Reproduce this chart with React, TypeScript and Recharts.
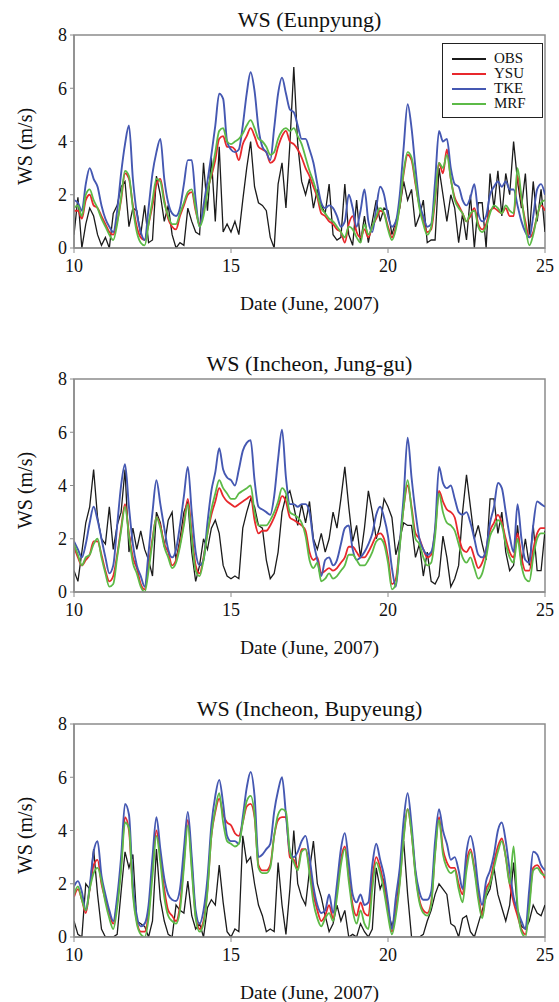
import { Legend, Line, LineChart, ReferenceArea, XAxis, YAxis } from 'recharts';

const FONT = '"Liberation Serif", "Times New Roman", serif';

// 3-hourly samples, 10 June 00h .. 25 June 00h
const START_DAY = 10;
const STEPS_PER_DAY = 8;
const xTicks = [10, 15, 20, 25];
const yTicks = [0, 2, 4, 6, 8];

const SERIES = [
  { key: 'OBS', color: '#1b1b1b', width: 1.3, curve: 'linear' },
  { key: 'YSU', color: '#e8282c', width: 1.8, curve: 'monotone' },
  { key: 'TKE', color: '#4558b2', width: 1.9, curve: 'monotone' },
  { key: 'MRF', color: '#5cba47', width: 1.8, curve: 'monotone' },
] as const;

// ---- Eunpyung ----
const eunObs = [
  0.5, 1.9, 0.0, 0.9, 1.5, 1.2, 0.5, 0.1,
  0.4, 0.0, 1.3, 1.6, 2.3, 2.5, 0.8, 1.5,
  1.4, 0.5, 1.6, 0.2, 0.3, 2.7, 2.0, 1.0,
  1.6, 0.5, 0.0, 0.2, 0.1, 1.5, 1.0, 0.6,
  0.5, 3.2, 1.4, 3.4, 1.0, 3.8, 0.6, 0.9,
  0.6, 1.0, 0.5, 1.8, 3.0, 4.0, 2.3, 1.7,
  1.6, 1.4, 0.4, 0.0, 2.4, 3.2, 1.5, 3.9,
  6.8, 3.9, 2.5, 2.0, 2.6, 1.5, 2.2, 1.6,
  1.3, 2.4, 0.5, 0.3, 0.4, 2.4, 0.5, 0.1,
  1.8, 0.2, 1.2, 0.2, 1.0, 1.8, 1.0, 1.5,
  1.4, 0.5, 1.0, 1.5, 2.5, 1.8, 2.2, 0.8,
  1.2, 1.8, 0.2, 0.3, 0.3, 3.0, 2.0, 1.0,
  2.0, 1.5, 0.2, 1.3, 0.3, 2.0, 0.0, 1.7,
  1.7, 0.0, 2.8, 1.5, 2.9, 1.2, 2.8, 2.0,
  4.0, 2.5, 1.5, 2.8, 0.5, 2.5, 1.0, 2.2, 0.6,
];
const eunYsu = [
  1.4, 1.4, 1.1, 1.8, 2.0, 1.6, 1.5, 1.2,
  0.9, 0.6, 0.5, 1.0, 1.8, 2.8, 2.6, 1.6,
  0.8, 0.4, 0.3, 0.9, 1.6, 2.4, 2.6, 1.8,
  1.1, 0.8, 0.7, 1.2, 1.6, 2.0, 2.1, 1.4,
  0.9, 1.4, 2.2, 2.7, 3.3, 4.1, 4.2, 3.8,
  3.8, 3.7, 3.3, 3.9, 4.2, 4.5, 4.2, 3.8,
  3.7, 3.6, 3.2, 3.3, 3.8, 4.2, 4.4, 4.0,
  3.9, 3.7, 3.4, 3.0, 2.7, 2.3, 1.9, 1.3,
  1.2, 1.0, 0.9, 0.7, 0.6, 0.2, 0.9, 1.2,
  0.6, 0.4, 0.7, 0.4, 0.8, 1.1, 1.4, 1.3,
  0.8, 0.4, 0.8, 1.6, 2.8, 3.5, 3.3, 2.4,
  1.6, 1.0, 0.6, 0.7, 1.8, 3.2, 2.8, 3.7,
  2.6, 1.9, 1.6, 1.3, 1.0, 1.2, 1.5, 0.9,
  0.7, 0.9, 1.4, 1.5, 1.4, 1.3, 1.5, 1.2,
  1.2, 2.7, 1.8, 1.0, 0.4, 0.6, 1.2, 1.6, 1.4,
];
const eunTke = [
  1.8, 1.7, 1.4, 2.4, 3.0, 2.6, 2.3, 1.6,
  1.1, 0.8, 0.6, 1.4, 2.8, 3.9, 4.6, 2.6,
  1.3, 0.6, 0.3, 1.5, 2.8, 3.6, 4.1, 2.6,
  1.7, 1.3, 1.2, 1.5, 2.4, 3.3, 3.3, 1.8,
  0.8, 1.6, 2.5, 3.5, 4.6, 5.8, 5.6, 4.0,
  3.7, 3.6, 3.7, 4.6, 5.8, 6.6, 5.9, 4.5,
  3.8, 3.6, 3.3, 4.5, 5.8, 6.4, 5.8, 5.2,
  5.1, 4.6, 4.1, 4.1, 3.7, 3.2, 2.4, 1.7,
  1.5, 1.6, 1.5, 1.2, 0.8, 1.0, 2.0, 1.5,
  0.8, 1.4, 2.2, 1.0, 0.6, 1.5, 2.3, 2.0,
  1.2, 0.8, 1.0, 2.0, 3.8, 5.4, 4.5, 3.0,
  1.7, 1.2, 0.8, 0.9, 2.5, 4.4, 4.0, 4.1,
  3.0, 2.4, 2.3, 1.8, 1.6, 1.9, 2.4, 1.3,
  1.0, 1.2, 2.0, 2.3, 2.5, 2.3, 2.5, 2.2,
  2.2, 1.6, 1.0, 0.6, 0.4, 1.2, 2.2, 2.4, 2.0,
];
const eunMrf = [
  1.5, 1.6, 1.2, 2.0, 2.2, 1.8, 1.5, 1.1,
  0.8, 0.5, 0.3, 0.9, 1.9, 2.9, 2.7, 1.5,
  0.6, 0.2, 0.1, 0.9, 1.8, 2.6, 2.5, 1.7,
  1.2, 0.9, 0.9, 1.3, 1.7, 2.1, 2.2, 1.5,
  0.8, 1.2, 2.1, 2.8, 3.6, 4.4, 4.5, 4.0,
  3.9, 4.0, 4.1, 4.3, 4.6, 4.8, 4.5, 4.1,
  4.0, 3.8, 3.5, 3.6, 4.1, 4.4, 4.5, 4.4,
  4.5, 4.2, 3.9, 3.4, 2.9, 2.5, 2.0, 1.5,
  1.3, 1.1, 1.0, 0.8, 0.6, 0.4, 0.8, 0.7,
  0.4, 0.2, 0.9, 0.5, 0.8, 1.2, 1.5, 1.3,
  0.7, 0.3, 0.7, 1.6, 2.9, 3.6, 3.4, 2.5,
  1.5, 0.9, 0.5, 0.8, 1.9, 3.2, 3.0, 3.5,
  2.6, 1.8, 1.5, 1.3, 1.0, 1.3, 1.4, 0.8,
  0.6, 0.8, 1.3, 1.6, 1.5, 1.3, 1.6, 1.4,
  1.3, 3.0, 1.9, 0.8, 0.1, 0.5, 1.2, 1.7, 1.8,
];

// ---- Incheon, Jung-gu ----
const jungObs = [
  0.8, 0.4, 1.5, 2.6, 3.2, 4.6, 2.8, 2.0,
  1.8, 3.2, 1.6, 2.5, 3.0, 4.6, 1.5, 2.4,
  1.6, 2.3, 1.6, 1.2, 0.6, 3.0, 2.6, 1.7,
  2.7, 3.0, 1.2, 2.0, 3.0, 3.4, 1.5, 0.4,
  1.0, 2.0, 1.6, 2.4, 2.7, 2.2, 1.0, 0.6,
  0.5, 0.6, 0.5, 2.4, 3.0, 3.5, 3.2, 2.5,
  2.4, 1.2, 0.5, 0.7, 1.5, 3.0, 3.6, 3.8,
  3.2, 2.5, 3.3, 2.6, 3.4, 2.0, 1.6, 2.2,
  1.5, 2.0, 3.0, 2.4, 3.5, 4.7, 3.2, 1.9,
  2.5, 1.3, 2.4, 3.8, 3.0, 2.0, 2.5, 3.5,
  3.2, 2.8, 1.4, 2.0, 2.6, 2.5, 2.5, 1.3,
  1.8, 0.6, 1.5, 0.4, 0.3, 0.6, 2.1, 1.3,
  0.2, 0.5, 1.0, 3.0, 4.4, 3.2, 2.0, 2.5,
  1.8, 1.2, 3.5, 3.5, 2.2, 3.0, 1.5, 0.8,
  1.0, 2.5, 1.0, 2.0, 1.0, 2.5, 0.8, 0.8, 2.3,
];
const jungYsu = [
  1.7, 1.3, 1.0, 1.2, 1.4, 1.9, 1.9, 1.4,
  0.8, 0.4, 0.6, 1.4, 2.4, 3.3, 2.2, 1.3,
  0.9, 0.3, 0.1, 1.0, 2.0, 2.8, 2.5, 1.8,
  1.5, 1.0, 1.2, 1.8, 2.6, 3.5, 2.2, 1.0,
  0.7, 1.3, 2.2, 2.9, 3.4, 3.9, 3.6, 3.4,
  3.3, 3.2, 3.3, 3.4, 3.5, 3.6, 2.7, 2.2,
  2.3, 2.3, 2.5, 2.8, 3.2, 3.6, 3.4, 2.8,
  2.7, 2.6, 2.5, 2.3, 1.5, 1.2, 1.3, 0.7,
  0.8, 0.9, 0.8, 0.9, 1.1, 1.3, 1.7, 1.7,
  1.5, 1.3, 1.3, 1.5, 1.8, 2.1, 2.2, 2.0,
  1.3, 0.3, 0.5, 1.8, 3.2, 4.0, 3.2, 2.2,
  2.0, 1.6, 1.3, 1.4, 2.3, 3.8, 3.4, 3.1,
  3.0, 2.8, 2.1, 1.6, 1.5, 1.7, 1.3, 0.9,
  1.1, 1.6, 2.3, 2.6, 2.9, 2.6, 2.0, 1.5,
  1.3, 2.2, 1.3, 0.8, 0.8, 1.6, 2.2, 2.4, 2.4,
];
const jungTke = [
  1.9, 1.6, 1.3, 1.8, 2.6, 3.2, 2.7, 2.0,
  1.3, 0.7, 1.0, 2.5, 4.0, 4.8, 3.2, 1.8,
  1.0, 0.6, 0.2, 1.5, 3.0, 4.2, 3.3, 2.4,
  1.6, 1.3, 1.6, 2.5, 3.6, 4.7, 3.0, 1.5,
  1.0, 1.2, 2.6, 3.8, 4.5, 5.4, 4.6, 4.3,
  4.2, 4.0, 4.6, 5.3, 5.6, 5.7, 4.2, 3.2,
  3.1, 3.0, 2.9, 3.6, 5.0, 6.1, 4.3, 3.3,
  3.3, 3.2, 3.3, 3.3, 3.0, 1.9, 1.2, 0.6,
  1.2, 1.3, 1.0, 1.2, 1.8, 2.4, 2.5, 1.6,
  1.2, 1.3, 1.5, 1.8, 2.2, 2.9, 3.2, 2.8,
  2.1, 0.9, 0.2, 1.8, 3.6, 5.8, 4.3, 3.0,
  2.0, 1.6, 1.4, 1.5, 2.4, 4.7, 4.1, 3.9,
  4.0, 3.5, 3.0, 2.9, 3.0, 2.6, 2.0, 1.4,
  1.3, 1.6, 2.6, 3.2, 4.1, 3.9, 3.0, 2.1,
  1.5, 3.3, 2.0, 1.2, 1.1, 2.5, 3.4, 3.3, 3.2,
];
const jungMrf = [
  1.8, 1.4, 1.0, 1.3, 1.4, 1.8, 2.0, 1.3,
  0.7, 0.2, 0.3, 1.3, 2.3, 3.2, 2.1, 1.1,
  0.7, 0.2, 0.0, 0.8, 1.9, 2.8, 2.4, 1.7,
  1.3, 0.9, 1.1, 1.7, 2.5, 3.3, 2.0, 0.8,
  0.6, 1.2, 2.2, 3.1, 3.7, 4.2, 3.9, 3.7,
  3.5, 3.5, 3.7, 3.8, 3.9, 4.0, 3.0, 2.5,
  2.5, 2.5, 2.7, 3.0, 3.4, 3.9, 3.7, 3.0,
  2.9, 2.8, 2.6, 2.1, 1.2, 0.9, 1.1, 0.4,
  0.5, 0.7, 0.5, 0.6, 0.8, 1.0, 1.4, 1.4,
  1.2, 1.0, 1.0, 1.2, 1.5, 1.9, 2.0, 1.8,
  1.1, 0.1, 0.3, 1.7, 3.2, 4.2, 3.1, 2.0,
  1.8, 1.3, 1.0, 1.1, 2.1, 3.7, 3.0, 2.6,
  2.5, 2.3, 1.8, 1.3, 1.1, 1.3, 0.9, 0.5,
  0.7, 1.3, 2.1, 2.4, 2.7, 2.5, 1.8, 1.3,
  1.1, 2.0, 1.0, 0.5, 0.4, 1.3, 2.0, 2.2, 2.2,
];

// ---- Incheon, Bupyeung ----
const bupObs = [
  0.6, 0.1, 0.0, 2.0, 1.8, 3.3, 1.6, 0.3,
  0.0, 0.0, 0.0, 0.1, 1.7, 3.2, 2.6, 3.1,
  0.6, 0.5, 0.4, 0.0, 0.6, 3.3, 1.4, 0.6,
  0.1, 0.0, 1.2, 1.0, 0.9, 2.1, 0.8, 0.3,
  0.5, 0.0, 1.1, 1.4, 1.2, 2.7, 1.3, 0.2,
  0.0, 0.3, 0.2, 3.8, 2.8, 3.0, 2.0, 1.2,
  0.8, 0.2, 0.3, 0.2, 2.8, 1.2, 0.1, 1.8,
  4.0, 2.0, 1.5, 1.2, 2.5, 3.6, 2.0, 1.5,
  0.8, 0.2, 0.5, 1.2, 0.6, 1.0, 0.0, 0.1,
  0.0, 0.5, 0.2, 0.0, 0.3, 2.6, 1.8, 2.2,
  1.0, 0.4, 0.9, 2.4, 3.6, 1.6, 0.0, 0.0,
  0.0, 0.1, 0.6, 1.0, 1.6, 2.0, 1.8, 1.6,
  0.5, 0.4, 0.0, 0.7, 0.8, 0.2, 0.0, 0.5,
  1.0, 1.5, 1.8, 2.6, 1.6, 1.1, 0.6, 1.2,
  2.8, 1.0, 0.4, 0.3, 0.6, 1.2, 0.9, 0.8, 1.2,
];
const bupYsu = [
  1.5, 1.8, 1.4, 0.9, 1.8, 2.7, 2.9, 2.0,
  1.4, 0.9, 0.5, 1.3, 2.7, 4.5, 4.0, 1.8,
  0.6, 0.2, 0.2, 0.9, 2.6, 4.0, 3.0, 1.8,
  1.0, 0.8, 0.6, 1.2, 2.8, 4.4, 2.7, 0.8,
  0.3, 0.6, 1.8, 3.8, 4.7, 5.2, 4.6, 4.3,
  4.2, 3.9, 3.8, 4.3, 4.9, 5.0, 4.5, 2.7,
  2.5, 2.5, 2.7, 3.8, 4.4, 4.5, 4.5, 3.0,
  2.9, 2.6, 3.3, 3.3, 2.6, 1.6, 1.0, 0.6,
  0.8, 1.2, 0.7, 1.7, 2.9, 3.4, 2.3, 1.2,
  0.8, 1.3, 0.9, 0.8, 2.2, 3.0, 2.6, 1.9,
  1.0, 0.2, 1.0, 2.1, 3.8, 4.8, 3.9, 2.4,
  1.4, 1.0, 0.9, 1.3, 3.2, 4.5, 3.3, 2.8,
  2.6, 2.6, 2.0, 1.6, 2.8, 3.3, 2.6, 1.6,
  0.8, 1.8, 2.1, 2.8, 3.4, 3.7, 3.0, 2.0,
  1.3, 0.8, 0.3, 0.1, 1.3, 2.6, 2.7, 2.5, 2.2,
];
const bupTke = [
  1.9, 2.1, 1.7, 1.0, 1.9, 3.2, 3.6, 2.3,
  1.6, 1.0, 0.6, 1.5, 3.0, 5.0, 4.6, 2.0,
  0.8, 0.4, 0.5, 1.2, 3.0, 4.5, 3.3, 2.2,
  1.6, 1.4, 1.35, 1.8, 3.3, 4.7, 3.0, 1.0,
  0.5, 1.0, 2.2, 4.2, 5.3, 5.9, 5.0, 3.8,
  3.6, 3.6, 3.5, 4.5, 5.6, 6.2, 5.3, 3.0,
  3.1, 3.3, 3.5, 4.7, 5.5, 6.0, 4.6, 3.2,
  3.0, 3.2, 3.6, 3.8, 3.0, 1.9, 1.2, 0.9,
  1.0, 1.6, 0.9, 2.0, 3.3, 3.9, 2.8, 1.6,
  1.3, 1.6, 1.2, 1.3, 2.7, 3.5, 2.9, 2.3,
  1.3, 0.3, 1.5, 2.6, 4.4, 5.4, 4.2, 2.5,
  1.7, 1.4, 1.4, 1.7, 3.6, 4.8, 4.0, 3.5,
  2.9, 3.0, 2.5, 1.8, 3.2, 3.8, 3.2, 1.9,
  1.2, 2.1, 2.5, 3.1, 4.0, 4.3, 3.6, 2.5,
  1.5, 1.0, 0.6, 0.3, 1.8, 3.2, 3.1, 2.7, 2.5,
];
const bupMrf = [
  1.6, 1.9, 1.4, 1.0, 1.8, 2.4, 2.6, 2.1,
  1.3, 0.7, 0.3, 1.1, 2.5, 4.3, 4.1, 1.6,
  0.5, 0.1, 0.0, 0.7, 2.3, 3.8, 2.8, 1.5,
  0.8, 0.6, 0.5, 1.0, 2.6, 4.2, 2.5, 0.7,
  0.2, 0.5, 1.7, 3.8, 4.8, 5.4, 4.3, 3.6,
  3.5, 3.4, 3.5, 4.3, 5.1, 5.3, 4.6, 2.6,
  2.4, 2.4, 2.6, 3.8, 4.6, 4.8, 4.7, 3.2,
  2.8, 2.5, 3.2, 3.3, 2.4, 1.3, 0.7, 0.4,
  0.7, 0.9, 0.6, 1.5, 2.7, 3.3, 2.1, 1.0,
  0.5, 1.0, 0.5, 0.3, 1.8, 2.8, 2.4, 1.7,
  0.8, 0.1, 0.8, 2.0, 3.7, 4.8, 3.9, 2.3,
  1.3, 0.9, 0.8, 1.2, 3.1, 4.4, 3.1, 2.6,
  2.4, 2.5, 1.8, 1.3, 2.5, 3.2, 2.5, 1.4,
  0.7, 1.6, 2.0, 2.6, 3.2, 3.6, 3.0, 2.0,
  3.4, 1.2, 0.2, 0.0, 1.1, 2.5, 2.6, 2.4, 2.3,
];

function buildRows(obs: number[], ysu: number[], tke: number[], mrf: number[]) {
  return obs.map((v, i) => ({
    day: START_DAY + i / STEPS_PER_DAY,
    OBS: v,
    YSU: ysu[i],
    TKE: tke[i],
    MRF: mrf[i],
  }));
}

const panels = [
  { title: 'WS (Eunpyung)', rows: buildRows(eunObs, eunYsu, eunTke, eunMrf), top: 0, legend: true },
  { title: 'WS (Incheon, Jung-gu)', rows: buildRows(jungObs, jungYsu, jungTke, jungMrf), top: 344, legend: false },
  { title: 'WS (Incheon, Bupyeung)', rows: buildRows(bupObs, bupYsu, bupTke, bupMrf), top: 689, legend: false },
];

const textStyle = { fontFamily: FONT, fill: '#111' };
const frame = '#8c8c8c';

function XTick({ x, y, payload }: any) {
  return (
    <text x={x} y={y} dy="0.71em" textAnchor="middle" style={{ ...textStyle, fontSize: 18 }}>
      {payload.value}
    </text>
  );
}

function YTick({ x, y, payload }: any) {
  return (
    <text x={x} y={y} dy="0.36em" textAnchor="end" style={{ ...textStyle, fontSize: 18 }}>
      {payload.value}
    </text>
  );
}

function YLabel({ viewBox }: any) {
  const cx = viewBox.x + viewBox.width / 2 - 12;
  const cy = viewBox.y + viewBox.height / 2 + 5;
  return (
    <text
      x={cx}
      y={cy}
      dy="0.36em"
      textAnchor="middle"
      transform={`rotate(-90, ${cx}, ${cy})`}
      style={{ ...textStyle, fontSize: 20 }}
    >
      WS (m/s)
    </text>
  );
}

function LegendBox({ payload }: { payload?: any[] }) {
  const order = SERIES.map((s) => s.key as string);
  const items = [...(payload ?? [])].sort((a, b) => order.indexOf(a.value) - order.indexOf(b.value));
  return (
    <div
      style={{
        width: 101,
        height: 75,
        boxSizing: 'border-box',
        border: '1px solid #222',
        background: '#fff',
        padding: '7px 0 0 9px',
        fontFamily: FONT,
        fontSize: 15,
        lineHeight: '15px',
        color: '#111',
      }}
    >
      {items.map((p) => (
        <div key={p.value} style={{ display: 'flex', alignItems: 'center', height: 15 }}>
          <span style={{ display: 'inline-block', width: 34, borderTop: `2.5px solid ${p.color}`, marginRight: 8 }} />
          <span>{p.value}</span>
        </div>
      ))}
    </div>
  );
}

function Panel({ title, rows, top, legend }: { title: string; rows: any[]; top: number; legend: boolean }) {
  return (
    <div style={{ position: 'absolute', left: 0, top, width: 559, height: 320, fontFamily: FONT }}>
      <div
        style={{
          position: 'absolute',
          left: 74,
          width: 471,
          top: 7,
          textAlign: 'center',
          fontSize: 22,
          lineHeight: '26px',
          color: '#111',
        }}
      >
        {title}
      </div>
      <LineChart width={559} height={320} data={rows} margin={{ top: 35, right: 14, bottom: 10, left: 0 }}>
        <XAxis
          dataKey="day"
          type="number"
          domain={[10, 25]}
          ticks={xTicks}
          allowDataOverflow
          height={62}
          tick={<XTick />}
          tickSize={5}
          tickMargin={6}
          tickLine={{ stroke: frame }}
          axisLine={{ stroke: frame, strokeWidth: 1.5 }}
          label={{ value: 'Date (June, 2007)', position: 'insideBottom', offset: 0, style: { ...textStyle, fontSize: 19.5 } }}
        />
        <YAxis
          domain={[0, 8]}
          ticks={yTicks}
          allowDataOverflow
          width={74}
          tick={<YTick />}
          tickSize={4}
          tickMargin={3}
          tickLine={{ stroke: frame }}
          axisLine={{ stroke: frame, strokeWidth: 1.5 }}
          label={{ content: <YLabel /> }}
        />
        <ReferenceArea x1={10} x2={25} y1={0} y2={8} fill="none" stroke={frame} strokeWidth={1.5} />
        {SERIES.map((s) => (
          <Line
            key={s.key}
            dataKey={s.key}
            name={s.key}
            type={s.curve}
            stroke={s.color}
            strokeWidth={s.width}
            dot={false}
            activeDot={false}
            isAnimationActive={false}
          />
        ))}
        {legend && (
          <Legend
            layout="vertical"
            align="center"
            verticalAlign="middle"
            content={<LegendBox />}
            wrapperStyle={{ position: 'absolute', left: 442, top: 43, width: 101, height: 75 }}
          />
        )}
      </LineChart>
    </div>
  );
}

export default function App() {
  return (
    <div
      style={{
        position: 'absolute',
        left: 0,
        top: 0,
        width: 559,
        height: 1002,
        overflow: 'hidden',
        background: '#fff',
        fontFamily: FONT,
      }}
    >
      {panels.map((p) => (
        <Panel key={p.title} {...p} />
      ))}
    </div>
  );
}
